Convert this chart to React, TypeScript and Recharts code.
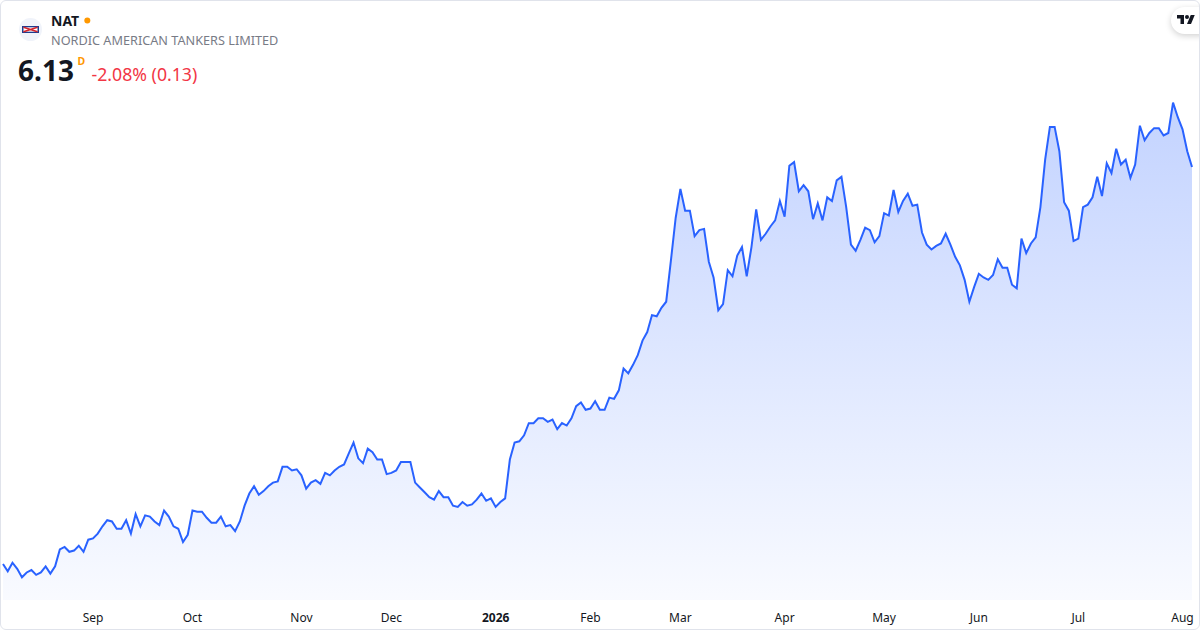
import { Area, AreaChart, XAxis, YAxis } from "recharts";

// daily closes, one array per month (trading days)
const aug2025 = [2.86, 2.8, 2.87, 2.82, 2.75, 2.79, 2.81, 2.77, 2.79, 2.84, 2.78, 2.84, 2.98, 3.0, 2.96, 2.97, 3.01, 2.96, 3.06];
const sep2025 = [3.07, 3.11, 3.17, 3.22, 3.21, 3.15, 3.15, 3.22, 3.11, 3.27, 3.17, 3.26, 3.25, 3.21, 3.18, 3.3, 3.25, 3.17, 3.15, 3.04, 3.1];
const oct2025 = [3.3, 3.29, 3.29, 3.24, 3.2, 3.2, 3.25, 3.17, 3.18, 3.13, 3.21, 3.34, 3.44, 3.5, 3.43, 3.46, 3.5, 3.53, 3.54, 3.66, 3.66, 3.63, 3.64];
const nov2025 = [3.59, 3.48, 3.53, 3.55, 3.52, 3.61, 3.59, 3.63, 3.66, 3.68, 3.77, 3.86, 3.73, 3.69, 3.81, 3.78, 3.72, 3.72, 3.6];
const dec2025 = [3.61, 3.63, 3.7, 3.7, 3.7, 3.53, 3.49, 3.45, 3.41, 3.39, 3.46, 3.41, 3.41, 3.34, 3.33, 3.37, 3.34, 3.35, 3.39, 3.44, 3.38, 3.4];
const jan2026 = [3.33, 3.37, 3.4, 3.72, 3.86, 3.87, 3.92, 4.02, 4.02, 4.06, 4.06, 4.03, 4.05, 3.97, 4.02, 4.0, 4.06, 4.16, 4.19, 4.13];
const feb2026 = [4.14, 4.2, 4.13, 4.13, 4.23, 4.22, 4.29, 4.47, 4.43, 4.5, 4.58, 4.7, 4.77, 4.91, 4.9, 4.97, 5.02, 5.36, 5.71];
const mar2026 = [5.95, 5.77, 5.77, 5.56, 5.61, 5.62, 5.35, 5.22, 4.95, 5.0, 5.28, 5.23, 5.4, 5.47, 5.23, 5.47, 5.78, 5.53, 5.58, 5.64, 5.69, 5.85];
const apr2026 = [5.72, 6.14, 6.17, 5.93, 5.98, 5.93, 5.7, 5.83, 5.69, 5.88, 5.85, 6.02, 6.05, 5.8, 5.49, 5.44, 5.53, 5.63, 5.61, 5.51, 5.56];
const may2026 = [5.75, 5.73, 5.94, 5.76, 5.85, 5.91, 5.81, 5.82, 5.59, 5.49, 5.45, 5.48, 5.5, 5.58, 5.49, 5.39, 5.32, 5.2, 5.02, 5.14];
const jun2026 = [5.25, 5.22, 5.2, 5.24, 5.37, 5.3, 5.3, 5.16, 5.13, 5.54, 5.42, 5.5, 5.55, 5.8, 6.19, 6.46, 6.46, 6.26, 5.84, 5.77, 5.52];
const jul2026 = [5.54, 5.8, 5.82, 5.88, 6.05, 5.89, 6.16, 6.08, 6.28, 6.15, 6.19, 6.04, 6.15, 6.47, 6.35, 6.41, 6.45, 6.45, 6.39, 6.41, 6.66, 6.54];
const aug2026 = [6.44, 6.26, 6.13];

const months = [aug2025, sep2025, oct2025, nov2025, dec2025, jan2026, feb2026, mar2026, apr2026, may2026, jun2026, jul2026, aug2026];
// label shown at the first trading day of months[1..]
const tickLabels = ["Sep", "Oct", "Nov", "Dec", "2026", "Feb", "Mar", "Apr", "May", "Jun", "Jul", "Aug"];

const data: { i: number; v: number }[] = [];
const tickIdx: number[] = [];
months.forEach((m, k) => {
  if (k > 0) tickIdx.push(data.length);
  m.forEach((v) => data.push({ i: data.length, v }));
});
const labelAt: Record<number, string> = {};
tickIdx.forEach((t, k) => (labelAt[t] = tickLabels[k]));

const FONT = "'Noto Sans', 'Open Sans', sans-serif";

const MonthTick = (props: any) => {
  const { x, y, payload } = props;
  const label = labelAt[payload.value];
  return (
    <text
      x={x}
      y={y + 14}
      textAnchor="middle"
      fontSize={12}
      fontFamily={FONT}
      fontWeight={label === "2026" ? 700 : 400}
      fill="#131722"
    >
      {label}
    </text>
  );
};

const Header = () => (
  <svg width={1200} height={100} style={{ position: "absolute", left: 0, top: 0 }}>
    <circle cx={30.5} cy={29.5} r={11.5} fill="#f0f3fa" />
    <rect x={22} y={26} width={17} height={7} fill="#1d3c8f" />
    <rect x={23.5} y={27.3} width={14} height={4.4} fill="#fff" />
    <path d="M23.5 27.3 L37.5 31.7 M23.5 31.7 L37.5 27.3" stroke="#d3222a" strokeWidth={1.6} />
    <text x={51} y={26} fontFamily={FONT} fontSize={14} fontWeight={700} fill="#131722">
      NAT
    </text>
    <circle cx={87.3} cy={20.5} r={3} fill="#ff9800" />
    <text x={51} y={45.3} fontFamily={FONT} fontSize={12.7} fill="#787b86">
      NORDIC AMERICAN TANKERS LIMITED
    </text>
    <text x={18} y={80.5} fontFamily={FONT} fontSize={28} fontWeight={700} fill="#131722">
      6.13
    </text>
    <text x={77.5} y={65} fontFamily={FONT} fontSize={10.5} fontWeight={700} fill="#ff9800">
      D
    </text>
    <text x={91.5} y={80.5} fontFamily={FONT} fontSize={17.7} fill="#f23645">
      -2.08% (0.13)
    </text>
  </svg>
);

const TvBadge = () => (
  <div
    style={{
      position: "absolute",
      left: 1171,
      top: 7,
      width: 44,
      height: 27,
      borderRadius: 14,
      background: "#fff",
      boxShadow: "0 2px 6px rgba(0,0,0,0.18)",
    }}
  >
    <svg width={18} height={14} viewBox="0 0 36 28" style={{ position: "absolute", left: 6, top: 6 }}>
      <path d="M14 22H7V11H0V4h14v18zM28 22h-8l7.5-18h8L28 22z" fill="#131722" />
      <circle cx={20} cy={8} r={4} fill="#131722" />
    </svg>
  </div>
);

export default function App() {
  return (
    <div
      style={{
        position: "relative",
        width: 1200,
        height: 630,
        overflow: "hidden",
        background: "#fff",
        fontFamily: FONT,
      }}
    >
      <style>{"body{margin:0}"}</style>
      <AreaChart width={1200} height={630} data={data} margin={{ top: 95, right: 8, bottom: 0, left: 3 }}>
        <defs>
          <linearGradient id="natFill" x1="0" y1="0" x2="0" y2="1">
            <stop offset="0%" stopColor="#2962ff" stopOpacity={0.28} />
            <stop offset="100%" stopColor="#2962ff" stopOpacity={0.03} />
          </linearGradient>
        </defs>
        <XAxis
          dataKey="i"
          type="number"
          domain={[0, data.length - 1]}
          ticks={tickIdx}
          interval={0}
          axisLine={false}
          tickLine={false}
          height={30}
          tick={MonthTick}
        />
        <YAxis hide domain={[2.563, 6.723]} allowDataOverflow />
        <Area
          type="linear"
          dataKey="v"
          stroke="#2962ff"
          strokeWidth={2}
          fill="url(#natFill)"
          fillOpacity={1}
          dot={false}
          activeDot={false}
          isAnimationActive={false}
        />
      </AreaChart>
      <Header />
      <TvBadge />
      <div
        style={{
          position: "absolute",
          inset: 0,
          border: "1px solid #e0e3eb",
          borderRadius: 6,
          pointerEvents: "none",
        }}
      />
    </div>
  );
}
